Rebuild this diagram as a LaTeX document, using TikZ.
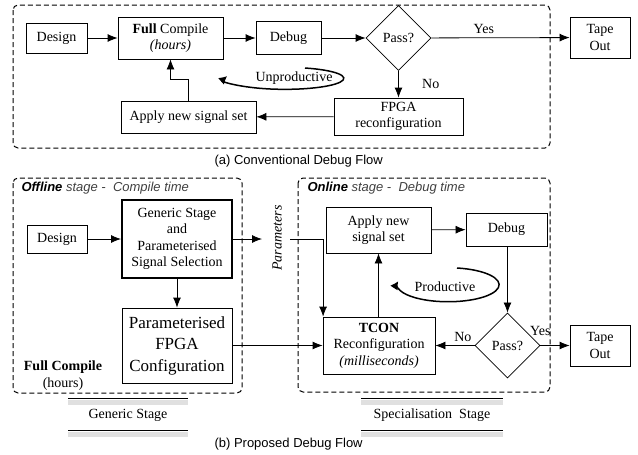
\documentclass[tikz,border=0pt]{standalone}
\usepackage{fontspec}
\setmainfont{Liberation Serif}
\setsansfont{Liberation Sans}
\usetikzlibrary{arrows.meta,shapes.geometric}

\begin{document}
\begin{tikzpicture}[x=1pt,y=-1pt,
    box/.style={draw,line width=0.8pt,inner sep=1pt,align=center,
      font=\fontsize{14}{16.5}\selectfont},
    decision/.style={diamond,draw,line width=0.8pt,inner sep=0pt,aspect=1,
      minimum size=65pt,font=\fontsize{14}{16.5}\selectfont},
    arr/.style={line width=0.8pt,-{Latex[length=10pt,width=8pt]}},
    loopy/.style={line width=1.5pt,-{Latex[length=8pt,width=9pt]}},
    frame/.style={line width=1pt,dash pattern=on 5pt off 3pt,rounded corners=5pt},
    txt/.style={font=\fontsize{14}{16.5}\selectfont},
    captxt/.style={font=\sffamily\fontsize{13}{15}\selectfont},
    stagelbl/.style={anchor=west,font=\sffamily\fontsize{13}{15}\selectfont},
    shade/.style={line width=5pt,black!12},
    rule/.style={line width=0.9pt}]
    \useasboundingbox (0,0) rectangle (638,455);

    \draw[frame] (13,5) rectangle (550,148);
    \node[box,minimum width=61pt,minimum height=30pt] (design1) at (56.5,38) {Design};
    \node[box,minimum width=105pt,minimum height=42pt] (full) at (170.5,38)
      {\textbf{Full} Compile\\\textit{(hours)}};
    \node[box,minimum width=65pt,minimum height=33pt] (debug1) at (288.5,38) {Debug};
    \node[decision] (pass1) at (398.5,38) {Pass?};
    \node[box,minimum width=60pt,minimum height=41pt] (tape1) at (600,37.5) {Tape\\Out};
    \node[box,minimum width=129pt,minimum height=37pt] (fpga) at (398.5,116.5)
      {FPGA\\reconfiguration};
    \node[box,minimum width=135pt,minimum height=32pt] (apply1) at (188.5,117)
      {Apply new signal set};
    \draw[arr] (design1) -- (full);
    \draw[arr] (full) -- (debug1);
    \draw[arr] (debug1) -- (pass1);
    \draw[arr] (pass1) -- (tape1) node[txt,above,pos=0.38] {Yes};
    \draw[arr] (pass1) -- (fpga) node[txt,midway,right=20pt] {No};
    \draw[arr] (fpga) -- (apply1);
    \draw[arr] (apply1.north) -- ++(0,-21) -| (full.south);
    \node[txt] (unprod) at (294,78) {Unproductive};
    \draw[loopy] (305,68) arc[start angle=-70,end angle=192,x radius=59,y radius=11];
    \node[captxt,anchor=west] (capa) at (211,161) {(a) Conventional Debug Flow};

    \draw[frame] (13,178) rectangle (242,393);
    \draw[frame] (298,178) rectangle (550,392);
    \node[stagelbl] (offl) at (18,188)
      {\textbf{\textit{Offline}} \color{black!75}\textit{stage -\ \ Compile time}};
    \node[stagelbl] (onl) at (304,188)
      {\textbf{\textit{Online}} \color{black!75}\textit{stage -\ \ Debug time}};
    \node[box,minimum width=60pt,minimum height=28pt] (design2) at (57,239) {Design};
    \node[box,line width=2pt,minimum width=110pt,minimum height=78pt] (generic) at (177,239)
      {Generic Stage\\and\\Parameterised\\Signal Selection};
    \node[box,minimum width=110pt,minimum height=75pt,
      font=\fontsize{17}{21.5}\selectfont] (pfpga) at (177,345.5)
      {Parameterised\\FPGA\\Configuration};
    \node[txt,align=center,font=\fontsize{14}{17}\selectfont] (fullc) at (63,376)
      {\textbf{Full Compile}\\(hours)};
    \node[txt,rotate=90] (params) at (277,238) {\textit{Parameters}};
    \coordinate (parin) at (262,239);
    \coordinate (parout) at (290,239);
    \node[box,minimum width=112pt,minimum height=57pt] (tcon) at (379,345.5)
      {\textbf{TCON}\\Reconfiguration\\\textit{(milliseconds)}};
    \node[box,minimum width=105pt,minimum height=46pt] (apply2) at (378.5,230)
      {Apply new\\signal set};
    \node[box,minimum width=81pt,minimum height=33pt] (debug2) at (506.5,229.5) {Debug};
    \node[decision] (pass2) at (507.5,345.5) {Pass?};
    \node[box,minimum width=60pt,minimum height=41pt] (tape2) at (600,345.5) {Tape\\Out};
    \draw[arr] (design2) -- (generic);
    \draw[arr] (generic) -- (pfpga);
    \draw[arr] (generic.east |- parin) -- (parin);
    \draw[arr] (parout) -| ([xshift=0.5pt]tcon.north west);
    \draw[arr] (pfpga) -- (tcon);
    \draw[arr] (tcon.north -| apply2) -- (apply2);
    \draw[arr] (apply2) -- (debug2);
    \draw[arr] (debug2.south -| pass2) -- (pass2);
    \draw[arr] (pass2) -- (tcon) node[txt,above,pos=0.3] {No};
    \draw[arr] (pass2) -- (tape2);
    \node[txt,above=6pt] (yes2) at (pass2.east) {Yes};
    \node[txt] (prod) at (445,287) {Productive};
    \draw[loopy] (457,268) arc[start angle=-80,end angle=192,x radius=51,y radius=17];

    \draw[shade] (68,402) -- (188,402);
    \draw[shade] (68,434) -- (188,434);
    \draw[rule] (68,398) -- (188,398);
    \draw[rule] (68,430) -- (188,430);
    \node[txt] (genst) at (128,415) {Generic Stage};
    \draw[shade] (361,402) -- (503,402);
    \draw[shade] (361,434) -- (503,434);
    \draw[rule] (361,398) -- (503,398);
    \draw[rule] (361,430) -- (503,430);
    \node[txt] (specst) at (432,415) {Specialisation\ \ Stage};
    \node[captxt,anchor=west] (capb) at (211,444) {(b) Proposed Debug Flow};
  \end{tikzpicture}
\end{document}
